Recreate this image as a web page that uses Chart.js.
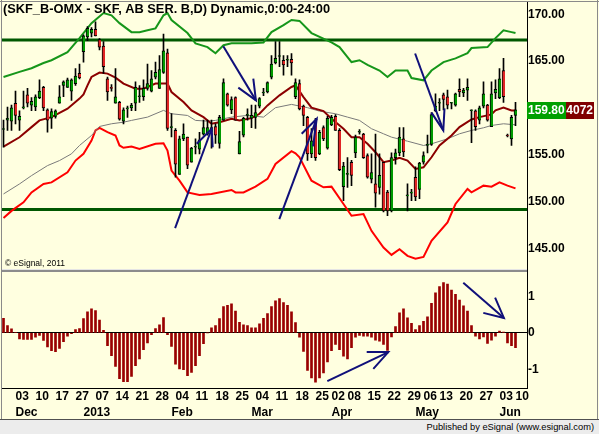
<!DOCTYPE html>
<html>
<head>
<meta charset="utf-8">
<script src="https://cdn.jsdelivr.net/npm/chart.js@4.4.1/dist/chart.umd.min.js"></script>
<style>
  html, body { margin: 0; padding: 0; background: #ffffe0; }
  #wrap { position: relative; width: 599px; height: 434px; overflow: hidden; background: #ffffe0; }
  #c { position: absolute; left: 0; top: 0; }
  #pub {
    position: absolute; left: 0; top: 419px; width: 599px; height: 15px;
    box-sizing: border-box; border-top: 1px solid #505050; background: #ececec;
    font: 9.3px "Liberation Sans", Arial, sans-serif; color: #000;
    text-align: right; padding-right: 5px; line-height: 14px;
  }
</style>
</head>
<body>
<div id="wrap">
  <canvas id="c" width="599" height="419"></canvas>
  <div id="pub">Published by eSignal (www.esignal.com)</div>
</div>
<script>
// ── daily bars, 28 Nov 2012 .. 10 Jun 2013 (trading days) ───────────────────
const opens = [
  157.7, 158.7, 158.6, 160.5, 158.7, 160.0, 161.4, 160.3, 160.1, 161.1,
  162.2, 159.8, 158.9, 159.1, 160.5, 162.4, 162.2, 161.8, 162.6, 163.7,
  166.0, 167.6, 168.0, 168.4, 167.3, 166.6, 163.1, 162.2, 160.5, 160.6,
  158.6, 159.9, 160.0, 160.5, 161.2, 161.2, 162.1, 161.8, 163.3, 162.1,
  163.8, 165.9, 157.9, 157.6, 152.9, 156.7, 156.9, 154.2, 155.8, 155.6,
  157.2, 157.2, 157.5, 158.0, 156.2, 158.7, 161.5, 159.8, 161.1, 155.1,
  157.1, 159.2, 158.9, 159.0, 160.2, 161.6, 161.7, 163.3, 164.8, 165.5,
  165.1, 165.1, 165.2, 161.2, 162.6, 160.2, 159.0, 155.1, 158.7, 155.1,
  157.9, 155.7, 158.2, 159.1, 157.6, 151.6, 152.9, 154.2, 155.2, 157.4,
  157.2, 154.9, 152.4, 151.9, 151.5, 154.2, 151.0, 149.0, 154.7, 155.2,
  156.7, 150.6, 150.9, 152.6, 151.3, 154.2, 156.0, 156.1, 159.7, 160.5,
  161.4, 161.2, 160.5, 160.3, 162.0, 161.6, 161.9, 159.7, 159.7, 158.7,
  160.2, 160.3, 158.0, 161.6, 161.1, 164.0, 157.1, 156.7, 159.2
];
const highs = [
  158.7, 160.1, 160.3, 161.8, 159.7, 161.8, 162.1, 161.1, 161.4, 163.0,
  162.3, 159.9, 159.9, 159.8, 162.4, 162.9, 163.2, 163.1, 164.2, 164.7,
  167.8, 168.7, 168.6, 169.2, 167.4, 167.1, 163.3, 162.5, 164.2, 160.7,
  160.0, 160.2, 160.5, 162.8, 162.4, 163.0, 164.7, 164.0, 164.9, 165.6,
  167.9, 166.3, 159.4, 157.8, 157.0, 158.3, 156.9, 155.8, 156.7, 157.4,
  158.7, 158.7, 158.7, 158.3, 159.2, 163.1, 161.6, 161.2, 161.2, 157.5,
  159.0, 159.9, 160.3, 160.3, 161.1, 162.1, 162.8, 165.6, 167.1, 167.1,
  165.6, 165.6, 165.8, 163.1, 163.0, 160.3, 159.1, 157.8, 158.9, 157.6,
  158.1, 159.1, 159.2, 159.3, 157.8, 154.2, 154.7, 154.4, 157.1, 157.7,
  157.3, 155.1, 155.1, 157.2, 155.1, 154.2, 151.2, 155.2, 155.6, 157.9,
  157.9, 151.9, 151.3, 153.7, 154.2, 155.3, 157.1, 159.5, 161.5, 161.0,
  161.6, 161.9, 160.6, 161.6, 163.1, 162.1, 163.1, 159.8, 159.8, 160.2,
  162.8, 160.4, 162.8, 163.0, 164.2, 165.3, 157.2, 159.2, 160.6
];
const lows = [
  155.8, 157.6, 157.6, 158.3, 157.6, 159.9, 160.1, 159.7, 159.7, 161.0,
  159.7, 157.4, 157.8, 158.9, 160.5, 161.2, 162.2, 160.8, 162.4, 163.1,
  164.9, 167.2, 167.6, 167.7, 166.2, 163.7, 160.8, 161.8, 160.5, 158.7,
  158.3, 159.0, 159.7, 159.7, 160.6, 160.8, 161.9, 161.7, 163.1, 162.1,
  163.7, 157.6, 156.9, 152.6, 152.9, 156.5, 153.5, 154.2, 155.1, 155.1,
  157.1, 157.1, 155.7, 156.2, 155.7, 158.7, 160.2, 159.4, 158.7, 155.1,
  156.9, 158.7, 157.9, 157.8, 160.0, 161.3, 161.6, 163.1, 164.7, 164.4,
  163.5, 164.4, 163.5, 161.0, 159.8, 158.1, 154.4, 154.7, 154.4, 155.0,
  156.5, 155.6, 158.1, 157.6, 153.3, 150.1, 151.5, 151.7, 154.7, 157.2,
  154.6, 152.5, 152.0, 149.4, 150.8, 148.9, 148.5, 148.9, 154.0, 154.9,
  154.8, 149.0, 150.1, 150.1, 150.3, 154.0, 155.2, 156.0, 159.6, 159.7,
  159.8, 159.9, 159.9, 160.2, 161.2, 161.2, 160.8, 156.3, 157.6, 158.3,
  160.0, 158.6, 158.0, 161.0, 161.0, 160.6, 156.9, 156.0, 158.1
];
const closes = [
  157.8, 158.9, 160.0, 159.2, 159.1, 160.1, 160.5, 160.7, 161.2, 161.8,
  160.0, 158.7, 159.6, 159.7, 161.2, 162.8, 163.0, 163.0, 163.4, 163.2,
  167.7, 168.5, 168.4, 167.7, 166.5, 164.4, 161.7, 162.1, 161.2, 158.8,
  159.8, 160.0, 160.3, 162.2, 161.3, 162.1, 162.6, 163.1, 163.8, 164.1,
  166.1, 157.8, 157.9, 154.0, 156.7, 157.2, 153.9, 155.7, 155.8, 156.6,
  157.9, 157.9, 157.9, 157.1, 159.0, 162.7, 160.3, 160.9, 158.7, 156.4,
  158.9, 159.2, 159.2, 159.5, 161.0, 161.7, 162.7, 164.7, 165.3, 165.5,
  164.6, 165.1, 164.8, 162.7, 159.9, 159.2, 155.1, 156.5, 154.7, 157.4,
  156.7, 158.9, 159.0, 157.6, 153.4, 153.8, 152.9, 152.8, 156.9, 157.4,
  154.7, 152.6, 153.1, 150.9, 152.8, 149.0, 149.0, 154.7, 155.2, 156.9,
  155.3, 150.6, 151.0, 150.5, 154.1, 154.9, 156.0, 159.3, 160.2, 160.6,
  160.9, 160.3, 160.5, 161.5, 161.7, 161.9, 162.2, 159.8, 158.0, 160.0,
  161.5, 158.7, 161.5, 162.0, 163.1, 161.2, 157.0, 159.0, 159.8
];

// lower panel oscillator, one value per bar
const oscValues = [
   0.40,  0.20,  0.11,  0.01, -0.17, -0.18, -0.18, -0.18, -0.12, -0.07,
  -0.21, -0.39, -0.49, -0.52, -0.43, -0.24, -0.09, -0.02,  0.09,  0.12,
   0.39,  0.58,  0.66,  0.61,  0.35,  0.07, -0.35, -0.63, -0.92, -1.26,
  -1.34, -1.34, -1.20, -0.90, -0.72, -0.46, -0.28, -0.05,  0.12,  0.22,
   0.42, -0.05, -0.37, -0.86, -0.99, -1.01, -1.18, -1.09, -0.90, -0.63,
  -0.30,  0.00,  0.14,  0.20,  0.39,  0.72,  0.76,  0.80,  0.60,  0.29,
   0.22,  0.20,  0.14,  0.14,  0.25,  0.40,  0.53,  0.72,  0.88,  0.94,
   0.83,  0.76,  0.58,  0.28, -0.12, -0.51, -1.03, -1.24, -1.36, -1.24,
  -1.10, -0.80, -0.49, -0.32, -0.46, -0.64, -0.72, -0.41, -0.12, -0.07,
  -0.09, -0.09, -0.12, -0.20, -0.23, -0.32, -0.48, -0.11,  0.17,  0.55,
   0.66,  0.41,  0.26,  0.09,  0.20,  0.32,  0.44,  0.81,  1.10,  1.27,
   1.38,  1.34,  1.18,  1.06,  0.90,  0.74,  0.60,  0.20, -0.09, -0.17,
  -0.11, -0.29, -0.20, -0.09,  0.05,  0.02, -0.28, -0.35, -0.41
];

// overlay studies, read as [bar index, price]
const upperBand = [
  [0,163.3],[4,163.85],[7,164.24],[10,164.8],[12,165.1],[16,165.96],[19,167.46],[22,169.06],
  [25,170.14],[27,169.9],[29,169.06],[32,168.1],[34,168.1],[36,168.3],[38,168.5],[40,169.9],
  [41,170.14],[42,169.4],[46,168.0],[48,166.9],[51,166.5],[53,165.85],[55,166.7],[57,166.9],
  [62,166.9],[65,167.0],[67,168.1],[70,168.85],[72,169.4],[74,169.3],[77,168.0],[82,167.0],
  [84,166.5],[87,164.9],[89,165.1],[91,164.6],[94,164.0],[96,163.3],[98,164.0],[101,164.0],
  [102,163.2],[105,162.95],[107,164.0],[110,164.9],[113,165.3],[116,165.85],[117,166.4],
  [121,166.5],[123,167.46],[125,168.3],[127,168.1],[128,168.0]
];
const midAverage = [
  [0,155.88],[4,156.87],[7,157.95],[9,158.67],[12,159.02],[16,159.92],[19,161.0],[20,161.45],
  [21,162.42],[22,163.31],[24,163.78],[26,163.67],[28,163.24],[30,162.6],[33,162.06],[35,162.06],
  [38,162.6],[41,162.6],[42,161.7],[45,160.63],[47,159.74],[50,159.02],[52,158.31],[54,158.48],
  [57,158.85],[59,158.67],[62,158.91],[64,159.38],[66,160.27],[69,161.35],[72,162.24],[73,162.42],
  [75,161.16],[77,160.03],[80,159.66],[82,158.85],[85,157.78],[87,156.88],[89,156.88],[91,156.17],
  [93,155.27],[95,154.2],[97,154.38],[99,154.67],[101,154.38],[103,153.49],[105,153.66],
  [107,154.73],[109,155.99],[112,157.06],[114,157.95],[117,158.77],[119,159.02],[122,159.31],
  [123,159.74],[125,160.03],[127,159.74],[128,159.74]
];
const slowAverage = [
  [0,150.81],[4,151.88],[7,152.77],[11,153.84],[14,154.38],[17,155.1],[19,155.99],[22,157.06],
  [24,158.02],[27,158.31],[30,158.48],[32,158.67],[36,159.02],[40,159.74],[42,159.38],[46,159.2],
  [48,158.67],[51,158.59],[53,158.67],[57,159.02],[61,159.2],[65,159.02],[68,160.03],[72,160.38],
  [76,160.03],[79,159.66],[83,159.38],[86,159.02],[89,158.67],[92,157.78],[95,157.24],[97,156.88],
  [101,156.45],[105,155.99],[107,156.17],[111,156.7],[114,157.24],[117,157.6],[120,157.88],
  [122,158.13],[125,158.31],[128,158.2]
];
const lowerBand = [
  [0,148.24],[2,149.0],[5,149.91],[7,150.98],[10,151.88],[12,152.05],[16,153.12],[18,154.38],
  [20,155.1],[22,156.52],[23,157.6],[24,157.88],[26,157.41],[28,157.06],[29,155.99],[30,155.74],
  [32,155.88],[34,155.63],[38,156.17],[40,156.23],[41,155.45],[42,153.31],[44,152.23],[46,150.98],
  [49,150.7],[52,150.81],[57,151.24],[58,150.98],[60,150.98],[63,151.59],[66,152.42],[68,154.02],
  [72,155.38],[73,155.16],[74,154.73],[77,152.23],[80,151.52],[82,151.59],[85,149.74],[87,148.48],
  [90,148.66],[92,146.87],[95,145.08],[97,144.3],[99,144.91],[101,144.2],[103,143.9],[105,144.09],
  [107,145.8],[111,147.76],[113,149.74],[116,151.35],[117,150.98],[120,151.7],[122,151.59],
  [124,152.05],[126,151.7],[128,151.41]
];
const levelLines = [167.25, 149.15];
const maLast = 159.74072;

// hand-drawn arrows: tail, tip and the two head strokes, as [bar index, value]
const priceArrows = [
  { tail: [42.9, 147.16], tip: [52.05, 157.78], arms: [[48.3, 156.17], [52.3, 155.8]] },
  { tail: [54.95, 166.6], tip: [63.1, 160.81], arms: [[58.7, 162.17], [62.45, 163.14]] },
  { tail: [68.95, 148.13], tip: [78.3, 158.85], arms: [[74.55, 157.24], [77.4, 155.9]] },
  { tail: [102.9, 165.82], tip: [109.95, 157.6], arms: [[107.0, 159.5], [110.25, 159.95]] },
];
const oscArrows = [
  { tail: [80.95, -1.33], tip: [96.2, -0.53], arms: [[90.8, -0.53], [92.45, -0.99]] },
  { tail: [114.95, 1.38], tip: [125.1, 0.41], arms: [[119.95, 0.55], [122.9, 0.97]] },
];

// ── axis labels ─────────────────────────────────────────────────────────────
const dayTickIdx = [3, 8, 13, 18, 23, 28, 33, 38, 43, 48, 53, 58, 63, 68, 73, 78, 82, 86, 91, 96, 101, 105, 109, 114, 119, 124, 128];
const dayTickLabels = ['03','10','17','27','07','14','21','28','04','11','18','25','04','11','18','25','02','08','15','22','29','06','13','20','27','03','10'];
const monthTickIdx = [3, 20, 42, 62, 82, 103, 124];
const monthTickLabels = ['Dec', '2013', 'Feb', 'Mar', 'Apr', 'May', 'Jun'];
const priceTicks = [145, 150, 155, 160, 165, 170];
const oscTicks = [-1, 0, 1];

const X_MIN = -0.375, X_MAX = 130.875;
const UP = '#009a00', DOWN = '#e02424';
const FONT = "'Liberation Sans', Arial, sans-serif";

Chart.defaults.font.family = FONT;
Chart.defaults.color = '#000';

const toXY = pts => pts.map(([x, y]) => ({ x, y }));
const bars = closes.map((_, i) => i);

function arrowSets(list, axis) {
  const out = [];
  list.forEach(a => {
    const base = { type: 'line', yAxisID: axis, borderColor: '#10107a', borderWidth: 2, pointRadius: 0, order: 0 };
    out.push({ ...base, data: toXY([a.tail, a.tip]) });
    out.push({ ...base, data: toXY([a.arms[0], a.tip, a.arms[1]]) });
  });
  return out;
}

function lineSet(pts, color, width, order) {
  return { type: 'line', yAxisID: 'y', data: toXY(pts), borderColor: color, borderWidth: width, pointRadius: 0, tension: 0, order };
}

// no auto padding for tick labels, the panes start right at the frame
const noPad = s => { s.paddingTop = 0; s.paddingBottom = 0; s.paddingLeft = 0; s.paddingRight = 0; };

// ── overlay: panel splitter, last-value tags, title, frame ───────────────────
const overlay = {
  id: 'overlay',
  afterDraw(chart) {
    const { ctx, chartArea: a, scales: { y } } = chart;
    ctx.save();
    const yb = Math.round(y.bottom);
    ctx.fillStyle = '#e4e4e4';
    ctx.fillRect(a.left, yb - 3, a.right - a.left, 1);
    ctx.fillStyle = '#8c8c8c';
    ctx.fillRect(a.left, yb - 2, a.right - a.left, 2);

    const last = closes[closes.length - 1];
    const py = Math.round(y.getPixelForValue(last));
    ctx.font = 'bold 12px ' + FONT;
    ctx.textBaseline = 'middle';
    ctx.fillStyle = '#800000';
    ctx.fillRect(a.right, py - 8, 67, 17);
    ctx.fillStyle = '#fff';
    ctx.textAlign = 'right';
    ctx.fillText(maLast.toFixed(5), 593, py + 1);
    ctx.textAlign = 'left';
    ctx.fillStyle = '#00a000';
    ctx.fillRect(a.right, py - 8, 39, 17);
    ctx.fillStyle = '#fff';
    ctx.fillText(last.toFixed(2), a.right + 1, py + 1);

    ctx.fillStyle = '#000';
    ctx.textBaseline = 'alphabetic';
    ctx.font = 'bold 12.8px ' + FONT;
    ctx.fillText('(SKF_B-OMX - SKF, AB SER. B,D) Dynamic,0:00-24:00', 3, 13);
    ctx.font = '8.5px ' + FONT;
    ctx.fillText('\u00a9 eSignal, 2011', 5, 266);

    ctx.strokeStyle = '#8a8a8a';
    ctx.lineWidth = 1;
    ctx.beginPath();
    ctx.moveTo(0, 1.5); ctx.lineTo(chart.width, 1.5);
    ctx.moveTo(1.5, 0); ctx.lineTo(1.5, chart.height);
    ctx.moveTo(597.5, 0); ctx.lineTo(597.5, chart.height);
    ctx.stroke();
    ctx.restore();
  }
};

const tickFont = { family: FONT, size: 12, weight: 'bold' };

new Chart(document.getElementById('c'), {
  type: 'bar',
  data: {
    datasets: [
      ...arrowSets(priceArrows, 'y'),
      ...arrowSets(oscArrows, 'y2'),
      {
        type: 'bar', yAxisID: 'y', order: 1, grouped: false, barThickness: 3, minBarLength: 1,
        data: bars.map(i => ({ x: i, y: [opens[i], closes[i]] })),
        backgroundColor: bars.map(i => closes[i] >= opens[i] ? UP : DOWN),
        borderColor: '#000', borderSkipped: false,
        borderWidth: { left: 1, right: 0, top: 1, bottom: 1 },
      },
      {
        type: 'bar', yAxisID: 'y', order: 2, grouped: false, barThickness: 1,
        data: bars.map(i => ({ x: i, y: [lows[i], highs[i]] })),
        backgroundColor: '#000',
      },
      lineSet(midAverage, '#8b0000', 2, 3),
      lineSet(slowAverage, '#7a7a7a', 1, 4),
      lineSet(upperBand, '#16961a', 2, 5),
      lineSet(lowerBand, '#ff0000', 2, 5),
      ...levelLines.map(v => ({
        type: 'line', yAxisID: 'y', order: 6, borderColor: '#005800', borderWidth: 3, pointRadius: 0,
        data: [{ x: X_MIN, y: v }, { x: X_MAX, y: v }],
      })),
      {
        type: 'bar', yAxisID: 'y2', order: 7, grouped: false, barThickness: 2,
        data: bars.map(i => ({ x: i, y: oscValues[i] })),
        backgroundColor: '#990000',
      },
    ],
  },
  options: {
    responsive: false,
    animation: false,
    events: [],
    layout: { padding: { left: 2, top: 2, right: 0, bottom: 0 } },
    plugins: { legend: { display: false }, tooltip: { enabled: false } },
    scales: {
      x: {
        type: 'linear', position: 'bottom', min: X_MIN, max: X_MAX, offset: false,
        grid: { display: false, drawTicks: false },
        border: { display: true, color: '#000', width: 1 },
        afterBuildTicks: s => { s.ticks = dayTickIdx.map(v => ({ value: v })); },
        afterFit: s => { s.height = 16; noPad(s); },
        ticks: { autoSkip: false, maxRotation: 0, align: 'start', padding: 1, font: tickFont, color: '#000',
                 callback: (v, i) => dayTickLabels[i] },
      },
      x2: {
        type: 'linear', position: 'bottom', min: X_MIN, max: X_MAX, offset: false,
        grid: { display: false, drawTicks: false },
        border: { display: false },
        afterBuildTicks: s => { s.ticks = monthTickIdx.map(v => ({ value: v })); },
        afterFit: s => { s.height = 15; noPad(s); },
        ticks: { autoSkip: false, maxRotation: 0, align: 'start', padding: 1, font: tickFont, color: '#000',
                 callback: (v, i) => monthTickLabels[i] },
      },
      y: {
        type: 'linear', position: 'right', stack: 'panes', stackWeight: 269,
        min: 142.43, max: 171.32,
        grid: { display: false, drawTicks: false },
        border: { display: true, color: '#000', width: 1 },
        afterBuildTicks: s => { s.ticks = priceTicks.map(v => ({ value: v })); },
        afterFit: s => { s.width = 72; noPad(s); },
        ticks: { padding: 1, font: tickFont, color: '#000', callback: v => v.toFixed(2) },
      },
      y2: {
        type: 'linear', position: 'right', stack: 'panes', stackWeight: 115,
        min: -1.517, max: 1.663,
        grid: { display: true, drawTicks: false, lineWidth: 1,
                color: c => (c.tick && c.tick.value === 0) ? '#000' : 'rgba(0,0,0,0)' },
        border: { display: true, color: '#000', width: 1 },
        afterBuildTicks: s => { s.ticks = oscTicks.map(v => ({ value: v })); },
        afterFit: s => { s.width = 72; noPad(s); },
        ticks: { padding: 1, font: tickFont, color: '#000', callback: v => String(v) },
      },
    },
  },
  plugins: [overlay],
});
</script>
</body>
</html>
